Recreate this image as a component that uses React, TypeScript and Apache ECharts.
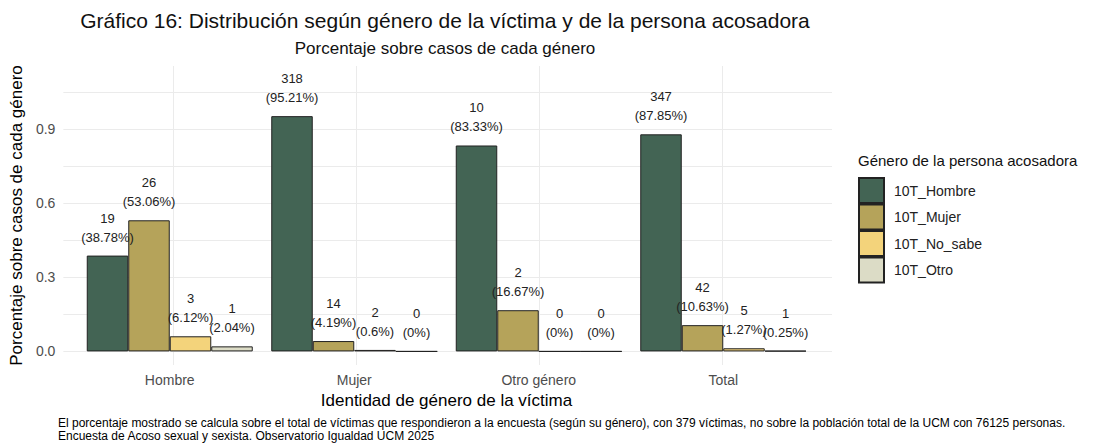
import React, { useEffect, useRef } from "react";
import * as echarts from "echarts";

const categories = ["Hombre", "Mujer", "Otro género", "Total"];
const seriesNames = ["10T_Hombre", "10T_Mujer", "10T_No_sabe", "10T_Otro"];
const countsHombre = [19, 318, 10, 347];
const countsMujer = [26, 14, 2, 42];
const countsNoSabe = [3, 2, 0, 5];
const countsOtro = [1, 0, 0, 1];
const pctHombre = [38.78, 95.21, 83.33, 87.85];
const pctMujer = [53.06, 4.19, 16.67, 10.63];
const pctNoSabe = [6.12, 0.6, 0, 1.27];
const pctOtro = [2.04, 0, 0, 0.25];
const yTickLabels = [0, 0.3, 0.6, 0.9];
const yGridValues = [0, 0.15, 0.3, 0.45, 0.6, 0.75, 0.9, 1.05];

const colors = ["#436454", "#b5a35a", "#f3d37b", "#dcdcc6"];
const FONT = "'Liberation Sans', Arial, sans-serif";

export default function App() {
  const ref = useRef<HTMLDivElement>(null);
  useEffect(() => {
    document.body.style.margin = "0";
    if (!ref.current) return;
    const chart = echarts.init(ref.current, null, { renderer: "svg" });
    const counts = [countsHombre, countsMujer, countsNoSabe, countsOtro];
    const pcts = [pctHombre, pctMujer, pctNoSabe, pctOtro];
    const top = 66;
    const height = 299;
    const series: any[] = seriesNames.map((name, i) => ({
      name,
      type: "bar",
      xAxisIndex: 0,
      yAxisIndex: 0,
      barWidth: 41.5,
      barGap: "0%",
      z: 3,
      data: pcts[i].map((p, j) => ({
        value: p / 100,
        count: counts[i][j],
        pct: p,
      })),
      itemStyle: { color: colors[i], borderColor: "#222", borderWidth: 1 },
      label: {
        show: true,
        position: "top",
        distance: 9,
        fontFamily: FONT,
        fontSize: 13,
        lineHeight: 19,
        color: "#222",
        formatter: (p: any) => `${p.data.count}\n(${p.data.pct}%)`,
      },
    }));
    series.push({
      type: "scatter",
      xAxisIndex: 1,
      yAxisIndex: 1,
      data: [],
      silent: true,
    });
    chart.setOption({
      animation: false,
      textStyle: { fontFamily: FONT },
      grid: [
        { left: 77.5, width: 738, top, height, containLabel: false },
        { left: 60, width: 772, top, height, containLabel: false },
      ],
      xAxis: [
        {
          type: "category",
          gridIndex: 0,
          data: categories,
          axisLine: { show: false },
          axisTick: { show: false },
          splitLine: { show: false },
          axisLabel: { color: "#4d4d4d", fontSize: 14, margin: 8, fontFamily: FONT },
          name: "Identidad de género de la víctima",
          nameLocation: "middle",
          nameGap: 27,
          nameTextStyle: { color: "#000", fontSize: 17, fontFamily: FONT },
        },
        {
          type: "value",
          gridIndex: 1,
          min: 0.4,
          max: 4.6,
          axisLine: { show: false },
          axisTick: { show: false, customValues: [1, 2, 3, 4] },
          axisLabel: { show: false, customValues: [1, 2, 3, 4] },
          splitLine: { show: true, lineStyle: { color: "#ebebeb", width: 1 } },
        },
      ],
      yAxis: [
        {
          type: "value",
          gridIndex: 0,
          min: -0.055,
          max: 1.155,
          show: false,
          splitLine: { show: false },
        },
        {
          type: "value",
          gridIndex: 1,
          min: -0.055,
          max: 1.155,
          axisLine: { show: false },
          axisTick: { show: false, customValues: yGridValues },
          axisLabel: {
            customValues: yTickLabels,
            color: "#4d4d4d",
            fontSize: 14,
            margin: 8,
            fontFamily: FONT,
            formatter: (v: number) => v.toFixed(1),
          },
          splitLine: { show: true, lineStyle: { color: "#ebebeb", width: 1 } },
          name: "Porcentaje sobre casos de cada género",
          nameLocation: "middle",
          nameGap: 29,
          nameRotate: 90,
          nameTextStyle: { color: "#000", fontSize: 17, fontFamily: FONT },
        },
      ],
      legend: {
        data: seriesNames,
        orient: "vertical",
        left: 858,
        top: 177,
        padding: 0,
        itemWidth: 25,
        itemHeight: 25,
        itemGap: -0.5,
        icon: "rect",
        textStyle: { fontSize: 14, color: "#222", fontFamily: FONT, padding: [0, 0, 0, 5] },
      },
      graphic: [
        {
          type: "text",
          x: 445,
          y: 20,
          style: {
            text: "Gráfico 16: Distribución según género de la víctima y de la persona acosadora",
            fontSize: 21,
            fontFamily: FONT,
            fill: "#111",
            textAlign: "center",
            textVerticalAlign: "middle",
          },
        },
        {
          type: "text",
          x: 445,
          y: 48,
          style: {
            text: "Porcentaje sobre casos de cada género",
            fontSize: 17,
            fontFamily: FONT,
            fill: "#111",
            textAlign: "center",
            textVerticalAlign: "middle",
          },
        },
        {
          type: "text",
          x: 858,
          y: 160,
          style: {
            text: "Género de la persona acosadora",
            fontSize: 15,
            fontFamily: FONT,
            fill: "#111",
            textAlign: "left",
            textVerticalAlign: "middle",
          },
        },
        {
          type: "text",
          x: 58,
          y: 423,
          style: {
            text: "El porcentaje mostrado se calcula sobre el total de víctimas que respondieron a la encuesta (según su género), con 379 víctimas, no sobre la población total de la UCM con 76125 personas.",
            fontSize: 12,
            fontFamily: FONT,
            fill: "#000",
            textVerticalAlign: "middle",
          },
        },
        {
          type: "text",
          x: 58,
          y: 436,
          style: {
            text: "Encuesta de Acoso sexual y sexista. Observatorio Igualdad UCM 2025",
            fontSize: 12,
            fontFamily: FONT,
            fill: "#000",
            textVerticalAlign: "middle",
          },
        },
      ],
      series,
    });
    return () => chart.dispose();
  }, []);
  return <div ref={ref} style={{ width: 1110, height: 443 }} />;
}
